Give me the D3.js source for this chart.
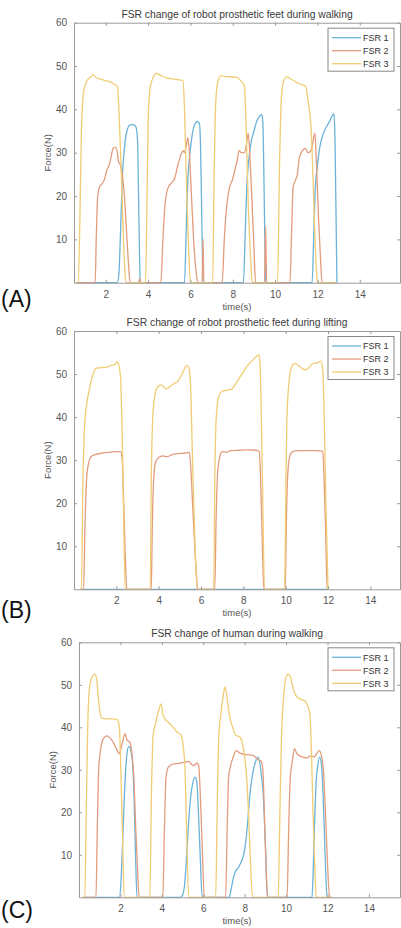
<!DOCTYPE html>
<html lang="en">
<head>
<meta charset="utf-8">
<title>FSR change</title>
<script src="https://cdn.jsdelivr.net/npm/d3@7"></script>
<style>
  body { margin: 0; background: #fff; }
  svg { display: block; font-family: Arial, "Liberation Sans", sans-serif; }
</style>
</head>
<body>
<div id="chart"></div>
<script>
// ---- data: [time (s), force (N)] ----
const seriesNames = ["FSR 1", "FSR 2", "FSR 3"];
const xTicks = [2, 4, 6, 8, 10, 12, 14];
const yTicks = [10, 20, 30, 40, 50, 60];

// (A) robot prosthetic feet, walking
const walkFsr1 = [[0.6,0],[2.55,0],[2.62,2],[2.7,12],[2.78,24],[2.88,31],[3.0,35],[3.15,36.4],[3.3,36.5],[3.42,36],[3.5,33],[3.55,20],[3.6,5],[3.63,0],
  [5.72,0],[5.8,12],[5.88,24],[5.98,30],[6.08,34],[6.2,36.5],[6.33,37.2],[6.42,36.8],[6.47,33],[6.52,20],[6.57,5],[6.6,0],
  [8.5,0],[8.58,10],[8.66,22],[8.75,28],[8.85,32],[9.0,35],[9.15,37.5],[9.3,38.6],[9.37,38.8],[9.42,37],[9.47,25],[9.52,8],[9.56,0],
  [11.75,0],[11.82,10],[11.9,22],[12.0,27],[12.1,31],[12.25,34],[12.4,35.8],[12.55,37],[12.7,38.5],[12.78,39],[12.83,33],[12.88,15],[12.92,0]];
const walkFsr2 = [[0.6,0],[1.5,0],[1.55,10],[1.62,20],[1.7,22],[1.85,23],[1.95,24],[2.05,26],[2.15,27],[2.25,29],[2.35,31],[2.45,31.3],[2.55,30],[2.6,28],[2.7,27],[2.78,25],[2.88,20],[2.98,12],[3.08,4],[3.15,0],[3.55,0],[3.6,1],[3.65,0],
  [4.6,0],[4.7,10],[4.8,18],[4.95,22],[5.1,23],[5.25,24],[5.4,27],[5.55,29.5],[5.65,30.5],[5.72,30],[5.8,31.5],[5.88,33.5],[5.95,30],[6.05,20],[6.15,10],[6.28,2],[6.35,0],[6.55,0],[6.6,10],[6.63,0],
  [7.5,0],[7.6,10],[7.72,18],[7.85,22],[8.0,24],[8.1,26],[8.2,28],[8.3,30.5],[8.4,30],[8.55,30],[8.65,32],[8.73,34.5],[8.8,30],[8.9,20],[9.0,8],[9.08,0],[9.5,0],[9.55,13],[9.6,0],
  [10.7,0],[10.78,12],[10.85,22],[10.95,23.5],[11.05,25],[11.15,29],[11.3,30.5],[11.42,31],[11.55,30],[11.65,30.2],[11.75,31.5],[11.88,34.5],[11.95,28],[12.05,15],[12.15,5],[12.22,0],[12.9,0]];
const walkFsr3 = [[0.6,0],[0.7,0],[0.78,15],[0.85,35],[0.95,44],[1.1,46.5],[1.3,47.5],[1.4,48],[1.55,47.3],[1.75,47],[2.0,46.6],[2.2,46.4],[2.4,45.8],[2.55,45.3],[2.62,40],[2.7,30],[2.8,15],[2.9,3],[2.97,0],
  [3.88,0],[3.95,20],[4.02,40],[4.1,45],[4.25,47.5],[4.4,48.3],[4.6,47.8],[4.9,47.2],[5.2,47],[5.5,46.8],[5.65,46.6],[5.72,40],[5.8,25],[5.9,10],[6.0,0],
  [7.05,0],[7.12,25],[7.2,42],[7.3,46.5],[7.45,47.8],[7.6,47.6],[7.9,47.5],[8.2,47.4],[8.4,46.5],[8.55,45.5],[8.62,38],[8.72,20],[8.85,5],[8.92,0],
  [10.12,0],[10.2,25],[10.3,43],[10.4,46.5],[10.55,47.5],[10.75,47],[11.0,46.3],[11.2,45.8],[11.45,45.3],[11.55,42],[11.68,37],[11.75,30],[11.85,15],[11.95,3],[12.0,0],[12.9,0]];

// (B) robot prosthetic feet, lifting
const liftFsr1 = [[0.3,0],[12.0,0]];
const liftFsr2 = [[0.3,0],[0.45,0],[0.52,15],[0.6,26],[0.7,29.5],[0.85,31],[1.0,31.3],[1.3,31.6],[1.6,31.8],[1.9,32],[2.2,32],[2.28,30],[2.35,20],[2.42,8],[2.5,0],
  [3.65,0],[3.7,15],[3.77,26],[3.85,29.5],[4.0,30.6],[4.2,31],[4.4,30.8],[4.6,31.2],[4.9,31.5],[5.2,31.6],[5.45,31.8],[5.52,28],[5.62,18],[5.75,6],[5.85,0],
  [6.65,0],[6.72,18],[6.8,28],[6.9,31],[7.0,32],[7.2,31.8],[7.4,32.2],[7.8,32.3],[8.2,32.4],[8.6,32.3],[8.75,32],[8.82,25],[8.9,10],[8.97,0],
  [9.98,0],[10.03,15],[10.1,27],[10.2,31],[10.32,32],[10.6,32.2],[11.0,32.2],[11.4,32.2],[11.75,32.1],[11.8,28],[11.88,15],[11.96,0],[12.0,0]];
const liftFsr3 = [[0.3,0],[0.35,0],[0.42,25],[0.5,38],[0.6,43],[0.75,47],[0.9,50],[1.05,51.3],[1.3,51.5],[1.55,51.6],[1.75,52],[1.95,52.3],[2.03,52.8],[2.12,52],[2.2,49],[2.28,35],[2.35,15],[2.42,0],
  [3.6,0],[3.65,25],[3.72,40],[3.82,45],[3.95,47],[4.12,47.5],[4.25,47],[4.35,46.5],[4.5,47],[4.7,47.7],[4.9,48.3],[5.05,49.5],[5.2,51],[5.32,52],[5.42,51.5],[5.5,48],[5.6,30],[5.72,10],[5.82,0],
  [6.6,0],[6.65,25],[6.72,40],[6.85,45],[7.0,46],[7.2,46.2],[7.45,46.5],[7.6,47.5],[7.8,49],[8.0,50.5],[8.2,52],[8.4,53],[8.6,54],[8.72,54.5],[8.78,53],[8.85,40],[8.92,20],[9.0,0],
  [9.95,0],[10.0,20],[10.05,38],[10.12,46],[10.2,50],[10.32,52],[10.45,52.5],[10.6,52],[10.8,51.2],[10.95,51],[11.1,51.5],[11.3,52.5],[11.5,52.6],[11.65,53],[11.75,51],[11.82,40],[11.9,20],[12.0,0]];

// (C) human, walking
const humanFsr1 = [[0.2,0],[1.95,0],[2.02,3],[2.1,12],[2.2,25],[2.3,33],[2.4,35.5],[2.5,34.5],[2.58,32],[2.65,25],[2.72,12],[2.8,0],
  [4.9,0],[5.0,0.5],[5.1,3],[5.2,10],[5.3,18],[5.4,24],[5.5,27],[5.6,28.3],[5.68,27.5],[5.75,22],[5.85,10],[5.95,0],
  [7.25,0],[7.35,2],[7.45,4.5],[7.55,6],[7.7,7],[7.8,8],[7.95,10],[8.05,13],[8.15,18],[8.25,24],[8.38,29],[8.5,31.5],[8.62,33],[8.72,32],[8.8,29],[8.9,24],[9.0,12],[9.1,0],
  [11.25,0],[11.3,5],[11.38,18],[11.45,27],[11.53,31],[11.62,33],[11.7,31.5],[11.78,25],[11.85,15],[11.92,5],[11.98,0],[12.2,0]];
const humanFsr2 = [[0.2,0],[0.82,0],[0.88,15],[0.95,30],[1.05,35],[1.2,37.5],[1.35,38],[1.5,37.5],[1.65,36.5],[1.8,35],[1.95,33.8],[2.05,35.5],[2.15,37.5],[2.22,38.5],[2.32,37],[2.45,36.5],[2.55,34],[2.65,28],[2.75,15],[2.85,4],[2.9,0],
  [4.05,0],[4.12,15],[4.2,28],[4.3,30.5],[4.5,31.3],[4.8,31.5],[5.1,31.8],[5.3,32],[5.45,31.2],[5.55,31],[5.7,31.6],[5.78,31],[5.85,25],[5.95,12],[6.05,0],
  [7.08,0],[7.15,15],[7.22,28],[7.32,31],[7.45,33],[7.58,34.5],[7.75,34],[8.0,33.6],[8.25,33.5],[8.45,33.3],[8.6,32.5],[8.8,32],[8.88,30],[8.95,20],[9.03,8],[9.1,0],
  [10.05,0],[10.12,15],[10.2,28],[10.3,32],[10.4,35],[10.5,34],[10.6,33.5],[10.8,33],[11.0,32.8],[11.2,33.3],[11.35,33],[11.5,34],[11.6,34.5],[11.7,33.5],[11.8,30],[11.9,20],[12.0,8],[12.1,0],[12.2,0]];
const humanFsr3 = [[0.2,0],[0.28,0],[0.35,20],[0.42,40],[0.5,49],[0.6,51.5],[0.75,52.5],[0.85,51.5],[0.93,47],[1.0,44],[1.1,42.2],[1.3,42],[1.6,42],[1.85,41.8],[1.95,40],[2.02,30],[2.1,15],[2.18,0],
  [3.42,0],[3.5,25],[3.58,38],[3.7,41],[3.85,44],[3.97,45.5],[4.05,43],[4.15,42],[4.35,41],[4.55,40],[4.75,38.8],[4.92,38.3],[5.02,36],[5.12,30],[5.2,15],[5.3,0],
  [6.6,0],[6.67,20],[6.75,38],[6.85,43],[6.95,47],[7.05,49.5],[7.12,48],[7.2,45],[7.3,42],[7.42,40],[7.55,38.2],[7.75,37.8],[7.9,36],[8.0,33],[8.1,28],[8.2,18],[8.3,6],[8.38,0],
  [9.62,0],[9.7,20],[9.78,38],[9.88,47],[9.98,51.5],[10.1,52.5],[10.2,52],[10.3,50],[10.42,48],[10.55,47],[10.75,46.5],[10.95,46],[11.05,45],[11.15,43],[11.22,35],[11.3,20],[11.38,8],[11.45,0],[12.2,0]];

const colors = ["#6bb3d8", "#e39c7e", "#f0cd74"];

const panels = [
  { title: "FSR change of robot prosthetic feet during walking", tag: "(A)",
    series: [walkFsr1, walkFsr2, walkFsr3], xDomain: [0.5, 15.9], left: 74, top: 22.7, bottom: 282.7, tagY: 307 },
  { title: "FSR change of robot prosthetic feet during lifting", tag: "(B)",
    series: [liftFsr1, liftFsr2, liftFsr3], xDomain: [0, 15.4], left: 74, top: 331, bottom: 589.3, tagY: 618 },
  { title: "FSR change of human during walking", tag: "(C)",
    series: [humanFsr1, humanFsr2, humanFsr3], xDomain: [0, 15.5], left: 79, top: 642.3, bottom: 897.3, tagY: 918 }
];

const W = 401, H = 928, right = 400;
const svg = d3.select("#chart").append("svg").attr("width", W).attr("height", H);

panels.forEach((p) => {
  const x = d3.scaleLinear().domain(p.xDomain).range([p.left, right]);
  const y = d3.scaleLinear().domain([0, 60]).range([p.bottom, p.top]);
  const g = svg.append("g");

  const line = d3.line().x(d => x(d[0])).y(d => y(d[1])).curve(d3.curveMonotoneX);
  p.series.forEach((s, i) => {
    g.append("path").datum(s)
      .attr("fill", "none")
      .attr("stroke", colors[i])
      .attr("stroke-width", 1.3)
      .attr("stroke-linejoin", "round")
      .attr("d", line);
  });

  // axes (MATLAB style: ticks inside, on all four sides)
  const tl = 3;
  g.append("g").attr("transform", `translate(0,${p.bottom})`)
    .call(d3.axisBottom(x).tickValues(xTicks).tickSizeInner(-tl).tickSizeOuter(0).tickPadding(8));
  g.append("g").attr("transform", `translate(${p.left},0)`)
    .call(d3.axisLeft(y).tickValues(yTicks).tickSizeInner(-tl).tickSizeOuter(0).tickPadding(7));
  g.append("g").attr("transform", `translate(0,${p.top})`)
    .call(d3.axisTop(x).tickValues(xTicks).tickSizeInner(-tl).tickSizeOuter(0).tickFormat(""));
  g.append("g").attr("transform", `translate(${right},0)`)
    .call(d3.axisRight(y).tickValues(yTicks).tickSizeInner(-tl).tickSizeOuter(0).tickFormat(""));
  g.selectAll(".domain").attr("stroke", "#9a9a9a").attr("stroke-width", 1);
  g.selectAll(".tick line").attr("stroke", "#9a9a9a");
  g.selectAll(".tick text").attr("fill", "#555").style("font-size", "10px");

  // title and labels
  g.append("text").attr("x", 237).attr("y", p.top - 5)
    .attr("text-anchor", "middle").attr("fill", "#3a3a3a").style("font-size", "10.3px")
    .text(p.title);
  g.append("text").attr("x", 237).attr("y", p.bottom + 27)
    .attr("text-anchor", "middle").attr("fill", "#555").style("font-size", "9.5px")
    .text("time(s)");
  g.append("text")
    .attr("transform", `translate(${p.left - 23},${(p.top + p.bottom) / 2}) rotate(-90)`)
    .attr("text-anchor", "middle").attr("fill", "#555").style("font-size", "9.5px")
    .text("Force(N)");
  g.append("text").attr("x", 1).attr("y", p.tagY)
    .attr("fill", "#111").style("font-size", "23px")
    .text(p.tag);

  // legend
  const lx = 328, ly = p.top + 5.5;
  const leg = g.append("g");
  leg.append("rect").attr("x", lx).attr("y", ly).attr("width", 66).attr("height", 43)
    .attr("fill", "#fff").attr("stroke", "#888").attr("stroke-width", 1);
  seriesNames.forEach((name, i) => {
    const yy = ly + 9.5 + i * 13;
    leg.append("line").attr("x1", lx + 4).attr("x2", lx + 33).attr("y1", yy).attr("y2", yy)
      .attr("stroke", colors[i]).attr("stroke-width", 1.3);
    leg.append("text").attr("x", lx + 35).attr("y", yy + 3.3)
      .attr("fill", "#333").style("font-size", "9px").text(name);
  });
});
</script>
</body>
</html>
